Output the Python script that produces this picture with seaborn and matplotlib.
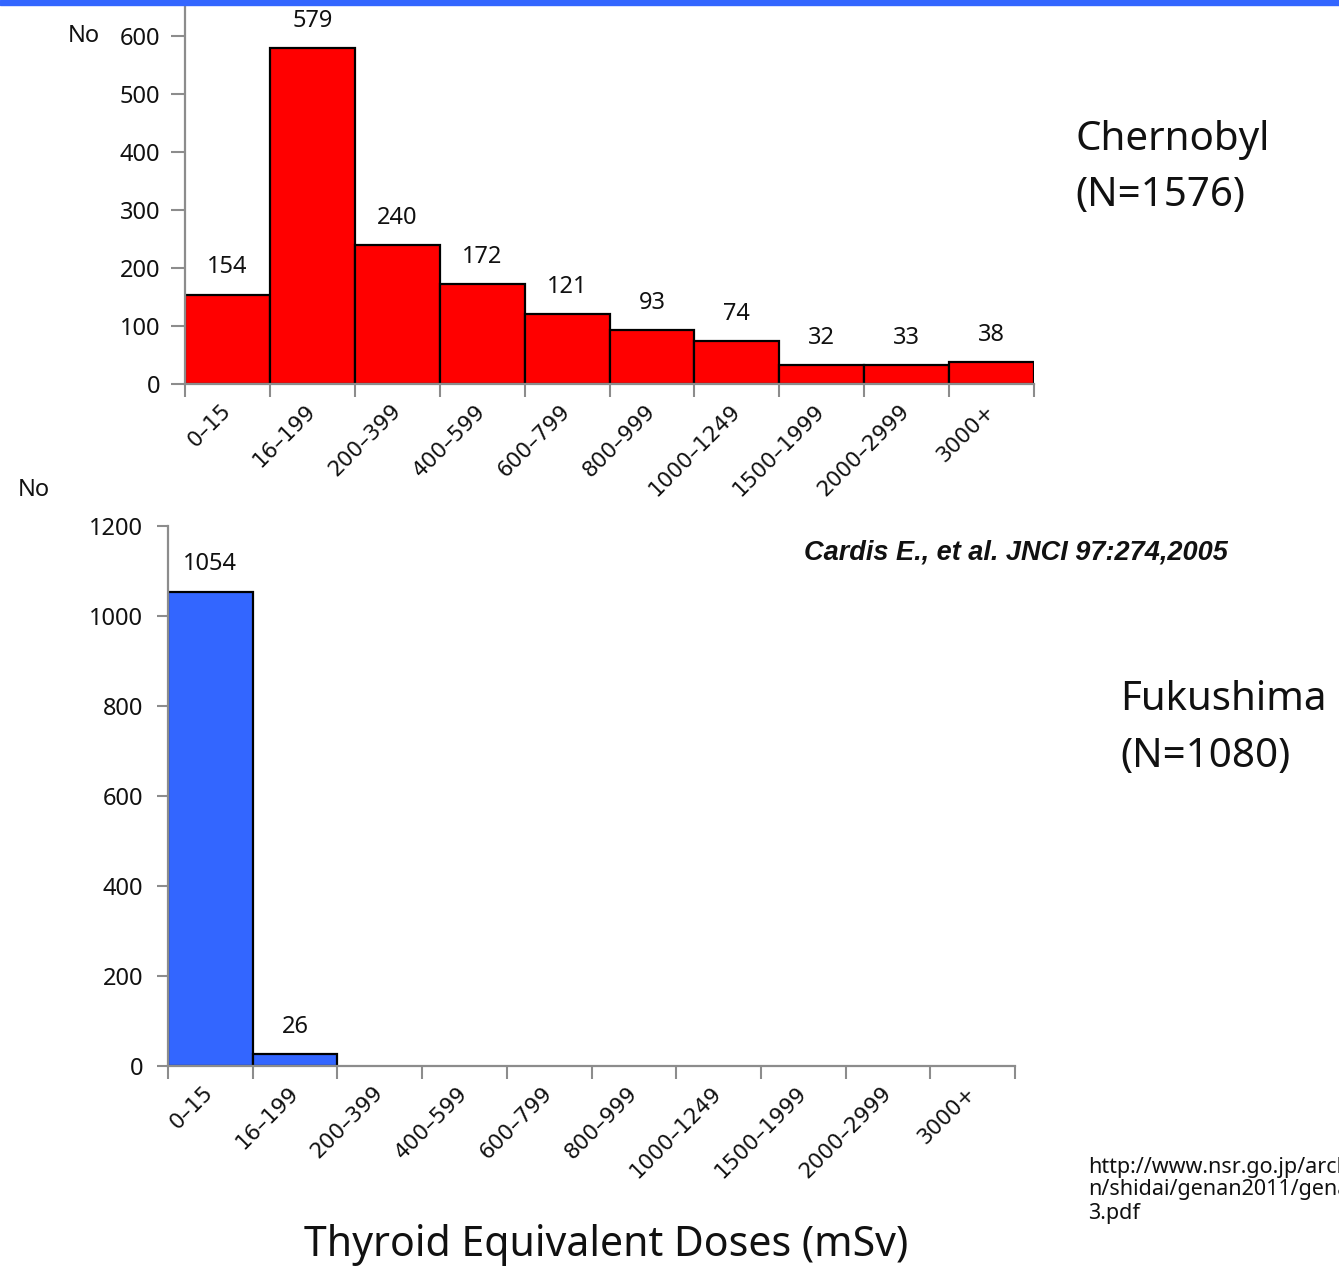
import numpy as np
import pandas as pd
import matplotlib
matplotlib.use("Agg")
import matplotlib.pyplot as plt
from matplotlib.patches import Rectangle
import seaborn as sns

categories = ["0-15", "16-199", "200-399", "400-599", "600-799", "800-999",
              "1000-1249", "1500-1999", "2000-2999", "3000+"]
chernobyl = [154, 579, 240, 172, 121, 93, 74, 32, 33, 38]
fukushima = [1054, 26, 0, 0, 0, 0, 0, 0, 0, 0]
top_yticks = [0, 100, 200, 300, 400, 500, 600]
bot_yticks = [0, 200, 400, 600, 800, 1000, 1200]

sns.set_theme(style="white")
plt.rcParams['font.family'] = ['Noto Sans', 'DejaVu Sans']

W, H = 1339, 1272
fig = plt.figure(figsize=(W / 100, H / 100), dpi=100)

def px_axes(x0, y0, x1, y1):
    return fig.add_axes([x0 / W, 1 - y1 / H, (x1 - x0) / W, (y1 - y0) / H])

GRAY = "#8c8c8c"
TXT = "#111111"

def style_axes(ax, values, yticks, ymax, color, ylabpad, ticklen):
    df = pd.DataFrame({"cat": categories, "val": values})
    sns.barplot(data=df, x="cat", y="val", order=categories, color=color,
                width=1.0, edgecolor="black", linewidth=1.6, saturation=1,
                ax=ax)
    for p, v in zip(ax.patches, values):
        if v == 0:
            p.set_edgecolor("none")
    labels = [str(v) if v > 0 else "" for v in values]
    ax.bar_label(ax.containers[0], labels=labels, padding=11, fontsize=17,
                 color=TXT)
    ax.set_xlim(-0.5, len(categories) - 0.5)
    ax.set_ylim(0, ymax)
    ax.set_xlabel("")
    ax.set_ylabel("")
    ax.set_xticks(np.arange(-0.5, len(categories) + 0.5, 1.0))
    ax.set_xticklabels([])
    ax.set_xticks(np.arange(len(categories)), minor=True)
    ax.set_xticklabels([c.replace("-", "\u2013") for c in categories],
                       minor=True, rotation=45, ha="right",
                       va="center", rotation_mode="anchor",
                       fontsize=15.5, family="DejaVu Sans", color=TXT)
    ax.tick_params(axis="x", which="minor", length=0, pad=17)
    ax.tick_params(axis="x", which="major", length=9, width=1.5,
                   color=GRAY, direction="out", bottom=True)
    ax.set_yticks(yticks)
    ax.set_yticklabels([str(t) for t in yticks], fontsize=17, color=TXT)
    ax.tick_params(axis="y", length=ticklen, width=1.5, color=GRAY,
                   direction="out", left=True, pad=ylabpad)
    for s in ["top", "right"]:
        ax.spines[s].set_visible(False)
    for s in ["left", "bottom"]:
        ax.spines[s].set_color(GRAY)
        ax.spines[s].set_linewidth(1.6)
    ax.set_facecolor("white")

# top: Chernobyl
ax1 = px_axes(185, 0, 1034, 384)
style_axes(ax1, chernobyl, top_yticks, 384 / 0.58, "#FF0000", 8, 10)

# bottom: Fukushima
ax2 = px_axes(168, 526, 1015, 1066)
style_axes(ax2, fukushima, bot_yticks, 1200, "#3366FF", 10, 8)

# top blue band
fig.patches.append(Rectangle((0, 1 - 5 / H), 1, 5 / H, transform=fig.transFigure,
                             color="#3366FF", zorder=10))

def ftext(x, y, s, **kw):
    fig.text(x / W, 1 - y / H, s, **kw)

ftext(68, 36, "No", fontsize=17, va="center", ha="left", color=TXT)
ftext(18, 490, "No", fontsize=17, va="center", ha="left", color=TXT)

ftext(1075, 140, "Chernobyl", fontsize=29, va="center", ha="left", color=TXT)
ftext(1075, 196, "(N=1576)", fontsize=29, va="center", ha="left", color=TXT)
ftext(1120, 700, "Fukushima", fontsize=29, va="center", ha="left", color=TXT)
ftext(1120, 757, "(N=1080)", fontsize=29, va="center", ha="left", color=TXT)

ftext(804, 553, "Cardis E., et al. JNCI 97:274,2005", fontsize=19.5,
      family="Liberation Sans", fontweight="bold", fontstyle="italic",
      va="center", ha="left", color=TXT)

ftext(606, 1245, "Thyroid Equivalent Doses (mSv)", fontsize=29.5, va="center",
      ha="center", color=TXT)

ftext(1088, 1167, "http://www.nsr.go.jp/archive", fontsize=15.5,
      va="center", ha="left", color=TXT)
ftext(1088, 1190, "n/shidai/genan2011/genan", fontsize=15.5,
      va="center", ha="left", color=TXT)
ftext(1088, 1213, "3.pdf", fontsize=15.5, va="center", ha="left", color=TXT)

fig.savefig("out.png", dpi=100, facecolor="white")
